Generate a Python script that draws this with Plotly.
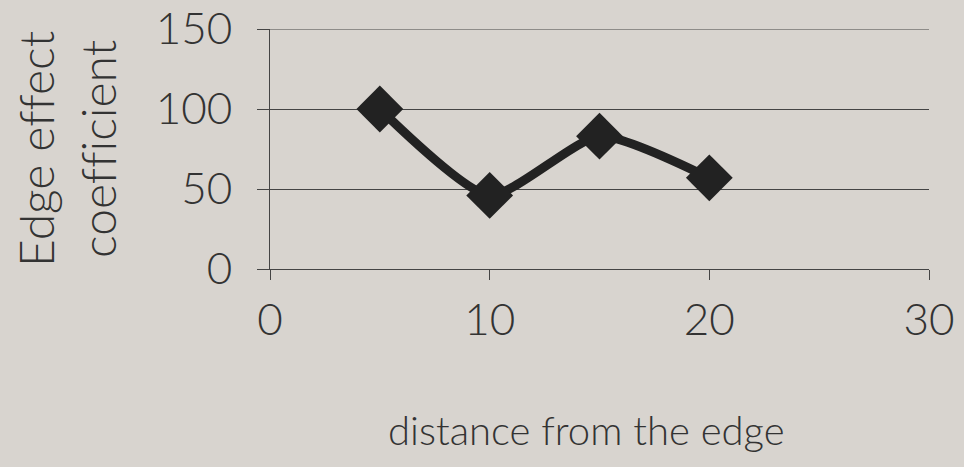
import plotly.graph_objects as go

# distance from the edge vs. edge effect coefficient
distance = [5, 10, 15, 20]
coefficient = [100, 46, 83, 57]

x_ticks = [0, 10, 20, 30]
y_ticks = [0, 50, 100, 150]

BG = "#d8d4cf"
INK = "#222222"
TEXT = "#333333"
AXIS = "#444444"
FONT = "Lato"
ZWNJ = "\u200c"  # keeps f-f-i from collapsing into a ligature

fig = go.Figure()
fig.add_trace(go.Scatter(
    x=distance, y=coefficient,
    mode="lines+markers",
    line=dict(color=INK, width=9, shape="spline", smoothing=0.6),
    marker=dict(symbol="diamond", size=36, color=INK),
    showlegend=False,
))

tick_font = dict(family=FONT, size=44, color=TEXT, weight=300)

fig.update_layout(
    width=964, height=467,
    margin=dict(l=270, r=35, t=29, b=198, autoexpand=False),
    paper_bgcolor=BG, plot_bgcolor=BG,
    font=dict(family=FONT, size=44, color=TEXT, weight=300),
    xaxis=dict(
        range=[0, 30], tickvals=x_ticks, showgrid=False, zeroline=False,
        showline=True, linecolor=AXIS, linewidth=1,
        ticks="outside", ticklen=10, tickcolor=AXIS, tickwidth=1,
        ticklabelstandoff=2, tickfont=tick_font, automargin=False,
    ),
    yaxis=dict(
        range=[0, 150], tickvals=y_ticks, showgrid=True, gridcolor=AXIS,
        gridwidth=1, zeroline=False,
        showline=True, linecolor=AXIS, linewidth=1,
        ticks="outside", ticklen=12, tickcolor=AXIS, tickwidth=1,
        ticklabelstandoff=16, tickfont=tick_font,
        ticklabeloverflow="allow", automargin=False,
    ),
)

# top grid line at 150 drawn as a shape so it sits on the range edge
fig.add_shape(type="line", xref="paper", yref="y", x0=0, x1=1, y0=y_ticks[-1], y1=y_ticks[-1],
              line=dict(color=AXIS, width=1))

plot_w = 964 - 270 - 35
plot_h = 467 - 29 - 198

fig.add_annotation(
    text=f"Edge ef{ZWNJ}fect<br>coef{ZWNJ}f{ZWNJ}icient", textangle=-90,
    xref="paper", yref="paper", x=(66 - 270) / plot_w, y=0.5,
    xanchor="center", yanchor="middle", showarrow=False,
    font=dict(family=FONT, size=48, color=TEXT, weight=300),
)
fig.add_annotation(
    text="distance from the edge",
    xref="paper", yref="paper", x=(586 - 270) / plot_w, y=-(430 - 269) / plot_h,
    xanchor="center", yanchor="middle", showarrow=False,
    font=dict(family=FONT, size=40, color=TEXT, weight=300),
)

fig.write_html("out.html")
